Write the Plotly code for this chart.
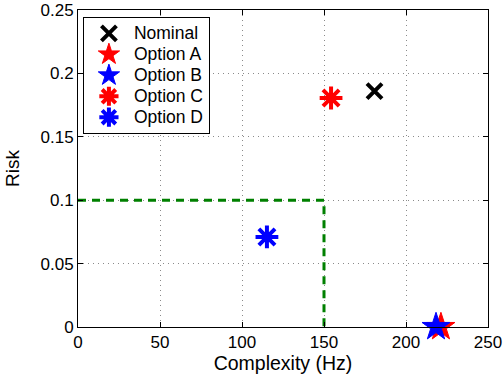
import plotly.graph_objects as go

names = ["Nominal", "Option A", "Option B", "Option C", "Option D"]
complexity = [180.8, 221.3, 218.3, 154.3, 115.2]
risk = [0.186, 0.0, 0.0, 0.1806, 0.071]
colors = ["black", "red", "blue", "red", "blue"]
symbols = ["x-thin-open", "star", "star", "asterisk-open", "asterisk-open"]
sizes = [15, 21, 21, 19, 19]

limit_x = [0, 150, 150]
limit_y = [0.1, 0.1, 0.0]

xticks = [0, 50, 100, 150, 200, 250]
yticks = [0, 0.05, 0.1, 0.15, 0.2, 0.25]
yticktext = ["0", "0.05", "0.1", "0.15", "0.2", "0.25"]

fig = go.Figure()
fig.add_trace(go.Scatter(x=limit_x, y=limit_y, mode="lines",
                         line=dict(color="#008000", width=3, dash="8px,6px"),
                         showlegend=False, hoverinfo="skip"))
for n, x, y, c, s, sz in zip(names, complexity, risk, colors, symbols, sizes):
    open_ = s.endswith("open")
    fig.add_trace(go.Scatter(
        x=[x], y=[y], mode="markers",
        name='<span style="font-size:17.5px">' + n + '</span>',
        marker=dict(symbol=s, size=sz, color=c,
                    line=dict(color=c, width=4 if open_ else 1)),
        cliponaxis=False))

axis_common = dict(showline=True, linecolor="black", linewidth=1, mirror="ticks",
                   ticks="inside", ticklen=5, tickcolor="black",
                   showgrid=True, gridcolor="#8a8a8a", griddash="1px,4px", gridwidth=1,
                   zeroline=False, automargin=False,
                   tickfont=dict(size=17, color="black"))
fig.update_layout(
    width=504, height=381,
    margin=dict(l=78, r=16, t=10, b=54),
    paper_bgcolor="white", plot_bgcolor="white",
    font=dict(family="Liberation Sans, Arial, sans-serif", color="black"),
    xaxis=dict(range=[0, 250], tickvals=xticks, ticktext=[str(v) for v in xticks],
               title=dict(text="Complexity (Hz)", font=dict(size=19.5), standoff=1),
               **axis_common),
    yaxis=dict(range=[0, 0.25], tickvals=yticks, ticktext=yticktext,
               title=dict(text="Risk", font=dict(size=19), standoff=15),
               **axis_common),
    legend=dict(x=0.012, y=0.978, xanchor="left", yanchor="top",
                bgcolor="white", bordercolor="black", borderwidth=1,
                font=dict(size=13.8), tracegroupgap=0, itemsizing="trace",
                itemwidth=40),
)
fig.write_html("out.html", config={"displayModeBar": False},
               post_script="document.body.style.margin='0';document.body.style.overflow='hidden';")
